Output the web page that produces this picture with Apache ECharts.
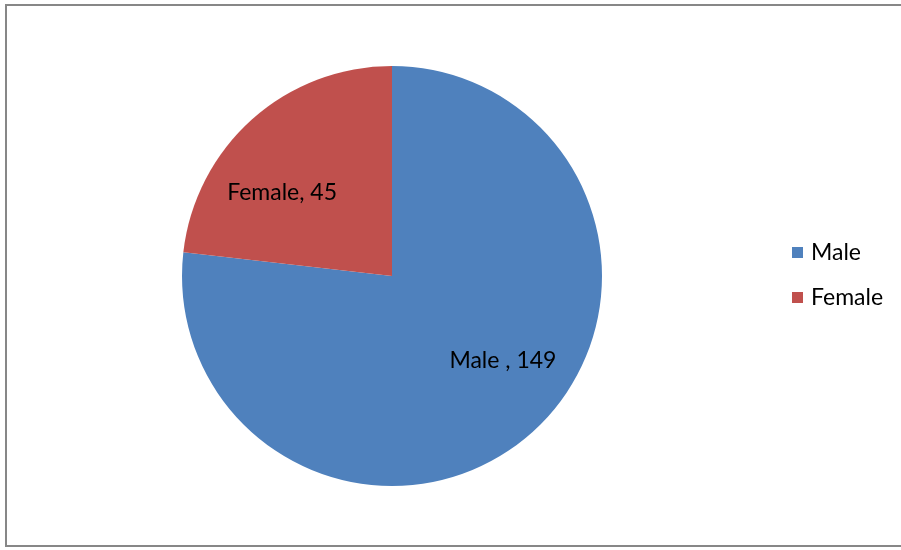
<!DOCTYPE html>
<html>
<head>
<meta charset="utf-8">
<script src="https://cdn.jsdelivr.net/npm/echarts@6/dist/echarts.min.js"></script>
<style>
html,body{margin:0;padding:0;background:#fff;}
#chart{width:901px;height:550px;}
</style>
</head>
<body>
<div id="chart"></div>
<script>
const categories = ['Male', 'Female'];
const values = [149, 45];
const colors = ['#4F81BD', '#C0504D'];
const labelTexts = ['Male , 149', 'Female, 45'];
const labelOffsets = [[39, 4], [-38, -3]];

const chart = echarts.init(document.getElementById('chart'), null, {renderer: 'canvas'});
const FONT = 'Lato, "Open Sans", "Liberation Sans", sans-serif';

chart.setOption({
  animation: false,
  backgroundColor: '#fff',
  graphic: [{
    type: 'rect',
    shape: {x: 6, y: 5, width: 920, height: 541},
    style: {fill: 'none', stroke: '#878787', lineWidth: 2},
    silent: true
  }],
  legend: {
    orient: 'vertical',
    left: 787,
    top: 236,
    itemWidth: 11,
    itemHeight: 11,
    itemGap: 22,
    icon: 'rect',
    data: categories,
    textStyle: {fontFamily: FONT, fontSize: 23, color: '#000', padding: [0, 0, 0, 3]}
  },
  series: [{
    type: 'pie',
    center: [392, 276],
    radius: [0, 210],
    startAngle: 90,
    clockwise: true,
    avoidLabelOverlap: false,
    label: {
      show: true,
      position: 'inside',
      fontFamily: FONT,
      fontSize: 23,
      color: '#000'
    },
    labelLine: {show: false},
    itemStyle: {borderWidth: 0},
    data: categories.map((c, i) => ({
      name: c,
      value: values[i],
      itemStyle: {color: colors[i]},
      label: {formatter: labelTexts[i], offset: labelOffsets[i]}
    }))
  }]
});
</script>
</body>
</html>
